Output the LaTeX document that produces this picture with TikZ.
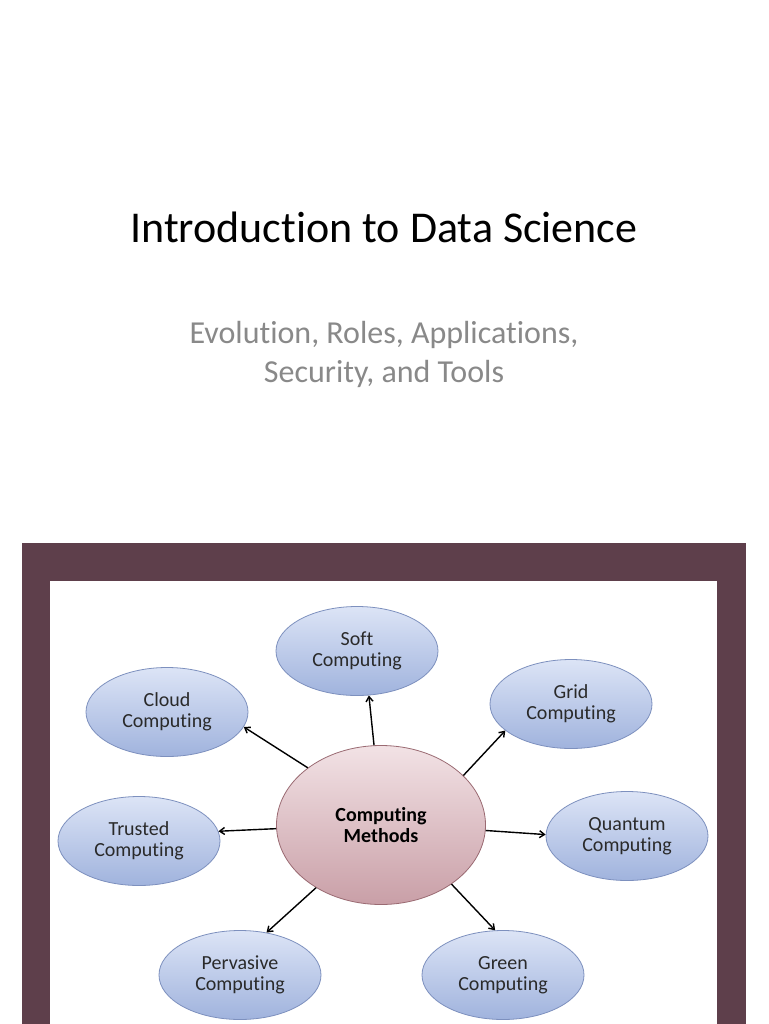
\documentclass[tikz,border=0pt]{standalone}
\usepackage{fontspec}
\setmainfont[Ligatures=NoCommon]{Carlito}
\usetikzlibrary{shapes.geometric,arrows.meta}
\definecolor{framec}{HTML}{5E3F4B}
\definecolor{subgray}{HTML}{898989}
\definecolor{btop}{HTML}{DCE4F6}
\definecolor{bbot}{HTML}{A0B3DD}
\definecolor{bdraw}{HTML}{7D90BE}
\definecolor{ptop}{HTML}{F2E2E5}
\definecolor{pbot}{HTML}{C99FA7}
\definecolor{pdraw}{HTML}{9A6A72}
\definecolor{txt}{HTML}{2A2A2A}
\tikzset{
  leaf/.style={ellipse, draw=bdraw, line width=0.8pt, top color=btop, bottom color=bbot,
    minimum width=162pt, minimum height=89pt, inner sep=0pt, align=center,
    text=txt, font=\fontsize{20}{21}\selectfont},
  hub/.style={ellipse, draw=pdraw, line width=0.8pt, top color=ptop, bottom color=pbot,
    minimum width=209pt, minimum height=159pt, inner sep=0pt, align=center,
    text=black, font=\bfseries\fontsize{20}{21}\selectfont},
  arr/.style={line width=1.4pt, -{Straight Barb[length=5pt,width=7pt]}}
}
\begin{document}
\begin{tikzpicture}[x=1pt,y=-1pt]
\useasboundingbox (0,0) rectangle (768,1024);
\fill[white] (0,0) rectangle (768,1024);
\node[anchor=base, font=\fontsize{44}{52}\selectfont, text=black] (title) at (384,242) {Introduction to Data Science};
\node[anchor=base, font=\fontsize{32}{39}\selectfont, text=subgray] (sub1) at (384,343) {Evolution, Roles, Applications,};
\node[anchor=base, font=\fontsize{32}{39}\selectfont, text=subgray] (sub2) at (384,382) {Security, and Tools};
\fill[framec] (22,543) rectangle (746,1024);
\fill[white] (50,581) rectangle (717,1024);
\node[hub] (c) at (381,825) {Computing\\Methods};
\node[leaf] (soft) at (357,651) {Soft\\Computing};
\node[leaf] (cloud) at (167,712) {Cloud\\Computing};
\node[leaf] (grid) at (571,704) {Grid\\Computing};
\node[leaf] (trust) at (139,841) {Trusted\\Computing};
\node[leaf] (quant) at (627,836) {Quantum\\Computing};
\node[leaf] (perv) at (240,975) {Pervasive\\Computing};
\node[leaf] (green) at (503,975) {Green\\Computing};
\draw[arr] (c.95.8) -- (soft.-75.4);
\draw[arr] (c.142.9) -- (cloud.-11.4);
\draw[arr] (c.31.8) -- (grid.-158);
\draw[arr] (c.182.8) -- (trust.7.9);
\draw[arr] (c.-3.3) -- (quant.179.3);
\draw[arr] (c.224) -- (perv.58.8);
\draw[arr] (c.-40.7) -- (green.100);
\end{tikzpicture}
\end{document}
